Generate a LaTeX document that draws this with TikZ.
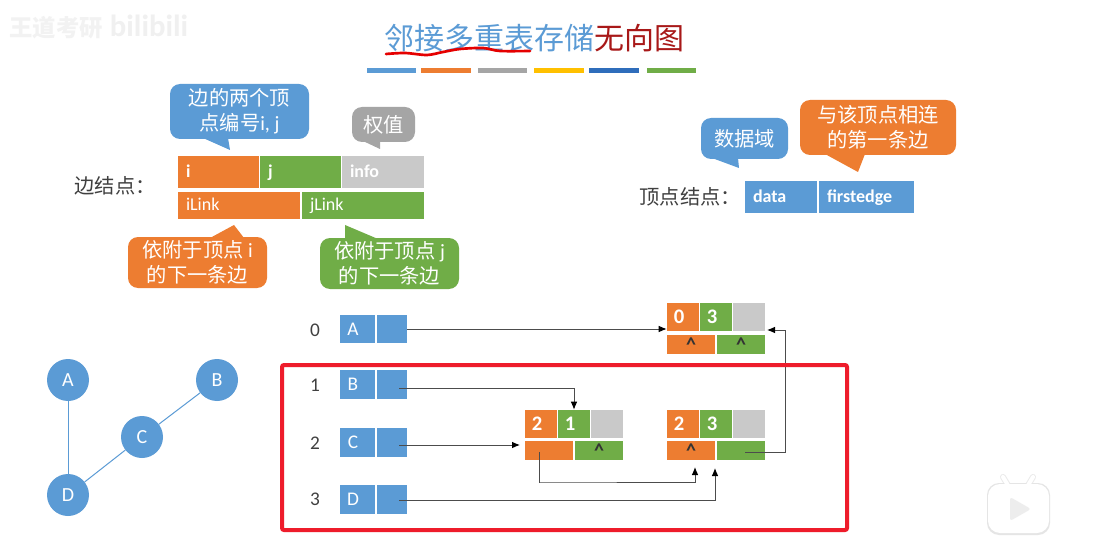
\documentclass[tikz,border=0pt]{standalone}
\usepackage{fontspec}
\setmainfont{Carlito}
\newfontfamily\cjk{Noto Sans CJK SC}
\usetikzlibrary{arrows.meta}
\definecolor{nodeblue}{HTML}{5B9BD5}
\definecolor{nodeorange}{HTML}{ED7D31}
\definecolor{nodegreen}{HTML}{70AD47}
\definecolor{nodegray}{HTML}{C9C9C9}
\definecolor{tipgray}{HTML}{A5A5A5}
\definecolor{baryellow}{HTML}{FFC000}
\definecolor{bardark}{HTML}{2F6DBB}
\definecolor{titlered}{HTML}{A81818}
\definecolor{frame}{HTML}{EE1C2B}
\definecolor{labeltext}{HTML}{404040}

\begin{document}
\begin{tikzpicture}[x=0.75pt,y=-0.75pt,
  cell/.style={inner sep=0pt,text=white,minimum height=#1},
  legcell/.style={inner xsep=6pt,inner ysep=0pt,text=white,text height=10.5pt,text depth=2.5pt,font=\fontsize{13.5}{16}\selectfont,align=left},
  numcell/.style={cell=21pt,minimum width=24pt,font=\fontsize{15.5}{18}\bfseries\selectfont,execute at begin node=\hspace*{-6pt}},
  linkcell/.style={cell=14.25pt,minimum width=36pt,text=black!80,font=\fontsize{15}{16}\bfseries\selectfont},
  vertcell/.style={cell=21.5pt,fill=nodeblue,font=\fontsize{14.5}{16}\selectfont,execute at begin node=\hspace*{-6.8pt}},
  idx/.style={text=labeltext,font=\fontsize{14.5}{16}\selectfont},
  tip/.style={rounded corners=7.5pt,inner sep=0pt,text=white,align=center,font=\cjk\fontsize{15.2}{18.5}\selectfont},
  vertex/.style={circle,fill=nodeblue,inner sep=0pt,minimum size=31.5pt,text=white,font=\fontsize{15}{16}\selectfont},
  bar/.style={inner sep=0pt,minimum height=3.75pt,minimum width=37pt},
  link/.style={black!70,line width=0.75pt,-{Latex[length=6pt,width=5pt,black]}}]
  \useasboundingbox (0,0) rectangle (1096,549);
  \fill[white] (0,0) rectangle (1096,549);

  % watermark
  \node[text=black!5,font=\cjk\fontsize{17.5}{18}\bfseries\selectfont] (markname) at (56,28) {王道考研};
  \node[text=black!6,font=\fontsize{23}{26}\bfseries\selectfont] (marklogo) at (149,26) {bilibili};

  % title
  \node[font=\cjk\fontsize{22.5}{26}\selectfont] (title) at (534,38) {\textcolor{nodeblue}{邻接多重表存储}\textcolor{titlered}{无向图}};
  \draw[red!90!black,line width=2pt,line cap=round] plot[smooth,tension=0.5] coordinates {(386,54) (405,53) (427,55) (443,52) (460,49) (483,48) (500,51) (530,51)};
  \node[bar,fill=nodeblue] (bara) at (391.5,70.5) {};
  \node[bar,fill=nodeorange] (barb) at (446,70.5) {};
  \node[bar,fill=tipgray] (barc) at (502.5,70.5) {};
  \node[bar,fill=baryellow] (bard) at (559,70.5) {};
  \node[bar,fill=bardark] (bare) at (614,70.5) {};
  \node[bar,fill=nodegreen] (barf) at (671.5,70.5) {};

  % edge node legend
  \node[anchor=west,text=labeltext,font=\cjk\fontsize{15.2}{18}\selectfont] (edgelabel) at (70,186) {边结点：};
  \node[legcell,fill=nodeorange,minimum height=24pt,text width=48.75pt,font=\fontsize{13.5}{16}\bfseries\selectfont] (legi) at (218.5,172) {i};
  \node[legcell,fill=nodegreen,minimum height=24pt,text width=48.75pt,font=\fontsize{13.5}{16}\bfseries\selectfont] (legj) at (300.5,172) {j};
  \node[legcell,fill=nodegray,minimum height=24pt,text width=49.5pt,font=\fontsize{13.5}{16}\bfseries\selectfont] (leginfo) at (383,172) {info};
  \node[legcell,fill=nodeorange,minimum height=20.25pt,text width=79.5pt] (legilink) at (239,205.5) {iLink};
  \node[legcell,fill=nodegreen,minimum height=20.25pt,text width=79.5pt] (legjlink) at (363,205.5) {jLink};

  \fill[nodeblue] (203,138) -- (230,150) -- (228,138) -- cycle;
  \node[tip,fill=nodeblue,minimum width=104.25pt,minimum height=41.25pt] (tipij) at (239.5,111.5) {边的两个顶\\点编号{\fontfamily{\rmdefault}\selectfont i, j}};
  \fill[tipgray] (363,141) -- (380,149) -- (380,141) -- cycle;
  \node[tip,fill=tipgray,minimum width=47.25pt,minimum height=26.25pt] (tipinfo) at (383.5,124.5) {权值};
  \fill[nodeorange] (210,238) -- (234,225) -- (244,238) -- cycle;
  \node[tip,fill=nodeorange,minimum width=104.25pt,minimum height=38.25pt] (tipilink) at (197.5,262.5) {依附于顶点 {\fontfamily{\rmdefault}\selectfont i}\\的下一条边};
  \fill[nodegreen] (345,239) -- (345,225) -- (378,239) -- cycle;
  \node[tip,fill=nodegreen,minimum width=104.25pt,minimum height=38.25pt] (tipjlink) at (389.5,263.5) {依附于顶点 {\fontfamily{\rmdefault}\selectfont j}\\的下一条边};

  % vertex node legend
  \node[anchor=west,text=labeltext,font=\cjk\fontsize{15.2}{18}\selectfont] (vertexlabel) at (635,197) {顶点结点：};
  \node[legcell,fill=nodeblue,minimum height=24pt,text width=42pt,font=\fontsize{13.5}{16}\bfseries\selectfont] (legdata) at (781,197) {data};
  \node[legcell,fill=nodeblue,minimum height=24pt,text width=59.25pt,font=\fontsize{13.5}{16}\bfseries\selectfont] (legfirst) at (866.5,197) {firstedge};

  \fill[nodeblue] (712,158) -- (739,168) -- (738,158) -- cycle;
  \node[tip,fill=nodeblue,minimum width=65.25pt,minimum height=30.75pt] (tipdata) at (744.5,138.5) {数据域};
  \fill[nodeorange] (825,154) -- (858,172) -- (865,154) -- cycle;
  \node[tip,fill=nodeorange,minimum width=117pt,minimum height=41.25pt] (tipfirst) at (878,127.5) {与该顶点相连\\的第一条边};

  % undirected graph
  \node[vertex] (a) at (68,380) {A};
  \node[vertex] (b) at (217,380) {B};
  \node[vertex] (c) at (142,437) {C};
  \node[vertex] (d) at (68,495) {D};
  \draw[nodeblue,line width=0.75pt] (a) -- (d);
  \draw[nodeblue,line width=0.75pt] (b) -- (c);
  \draw[nodeblue,line width=0.75pt] (c) -- (d);

  % vertex table
  \node[idx] (idxa) at (315,330) {0};
  \node[idx] (idxb) at (315,385) {1};
  \node[idx] (idxc) at (315,443) {2};
  \node[idx] (idxd) at (315,499) {3};
  \node[vertcell,minimum width=26.25pt] (va) at (357.5,329) {A};
  \node[vertcell,minimum width=22.5pt] (vaedge) at (392,329) {};
  \node[vertcell,minimum width=26.25pt] (vb) at (357.5,384.5) {B};
  \node[vertcell,minimum width=22.5pt] (vbedge) at (392,384.5) {};
  \node[vertcell,minimum width=26.25pt] (vc) at (357.5,442.5) {C};
  \node[vertcell,minimum width=22.5pt] (vcedge) at (392,442.5) {};
  \node[vertcell,minimum width=26.25pt] (vd) at (357.5,499.5) {D};
  \node[vertcell,minimum width=22.5pt] (vdedge) at (392,499.5) {};

  % edge 0-3
  \node[numcell,fill=nodeorange] (eai) at (683,317) {0};
  \node[numcell,fill=nodegreen] (eaj) at (716,317) {3};
  \node[numcell,fill=nodegray] (eainfo) at (749,317) {};
  \node[linkcell,fill=nodeorange] (eailink) at (691,344.5) {\raisebox{-4.5pt}{\^{}}};
  \node[linkcell,fill=nodegreen] (eajlink) at (741,344.5) {\raisebox{-4.5pt}{\^{}}};
  % edge 2-1
  \node[numcell,fill=nodeorange] (ebi) at (541,424) {2};
  \node[numcell,fill=nodegreen] (ebj) at (574,424) {1};
  \node[numcell,fill=nodegray] (ebinfo) at (607,424) {};
  \node[linkcell,fill=nodeorange] (ebilink) at (549,450.5) {};
  \node[linkcell,fill=nodegreen] (ebjlink) at (599,450.5) {\raisebox{-4.5pt}{\^{}}};
  % edge 2-3
  \node[numcell,fill=nodeorange] (eci) at (683,424) {2};
  \node[numcell,fill=nodegreen] (ecj) at (716,424) {3};
  \node[numcell,fill=nodegray] (ecinfo) at (749,424) {};
  \node[linkcell,fill=nodeorange] (ecilink) at (691,450.5) {\raisebox{-4.5pt}{\^{}}};
  \node[linkcell,fill=nodegreen] (ecjlink) at (741,450.5) {};

  % pointers
  \coordinate (bstart) at (399,388);
  \coordinate (cstart) at (399,445);
  \coordinate (cend) at (520,445);
  \coordinate (dstart) at (399,500);
  \coordinate (dend) at (715,468);
  \coordinate (ebstart) at (539,452);
  \coordinate (ebend) at (695,467);
  \coordinate (ecstart) at (745,452);
  \coordinate (ecend) at (767,330);
  \draw[link] (vaedge.east) -- (vaedge.east -| eai.west);
  \draw[link] (bstart) -| (ebj.north);
  \draw[link] (cstart) -- (cend);
  \draw[link] (dstart) -| (dend);
  \draw[link] (ebstart) |- (540,482) -| (ebend);
  \draw[link] (ecstart) -- (785,452) |- (ecend);

  % red frame
  \draw[frame,line width=3pt,rounded corners=1.5pt] (282,365) rectangle (847,530);

  % player button
  \draw[black!8,line width=4.5pt,line cap=round] (1009,487) -- (1003,477);
  \draw[black!8,line width=4.5pt,line cap=round] (1027,487) -- (1033,477);
  \fill[black!10,rounded corners=9pt] (987,483) rectangle (1050,535);
  \draw[white,line width=3pt,line cap=round] (1009,487) -- (1003,477);
  \draw[white,line width=3pt,line cap=round] (1027,487) -- (1033,477);
  \fill[white,rounded corners=9pt] (988,484) rectangle (1049,533);
  \fill[black!7,rounded corners=2pt] (1010,497) -- (1031,509) -- (1010,521) -- cycle;
\end{tikzpicture}
\end{document}
